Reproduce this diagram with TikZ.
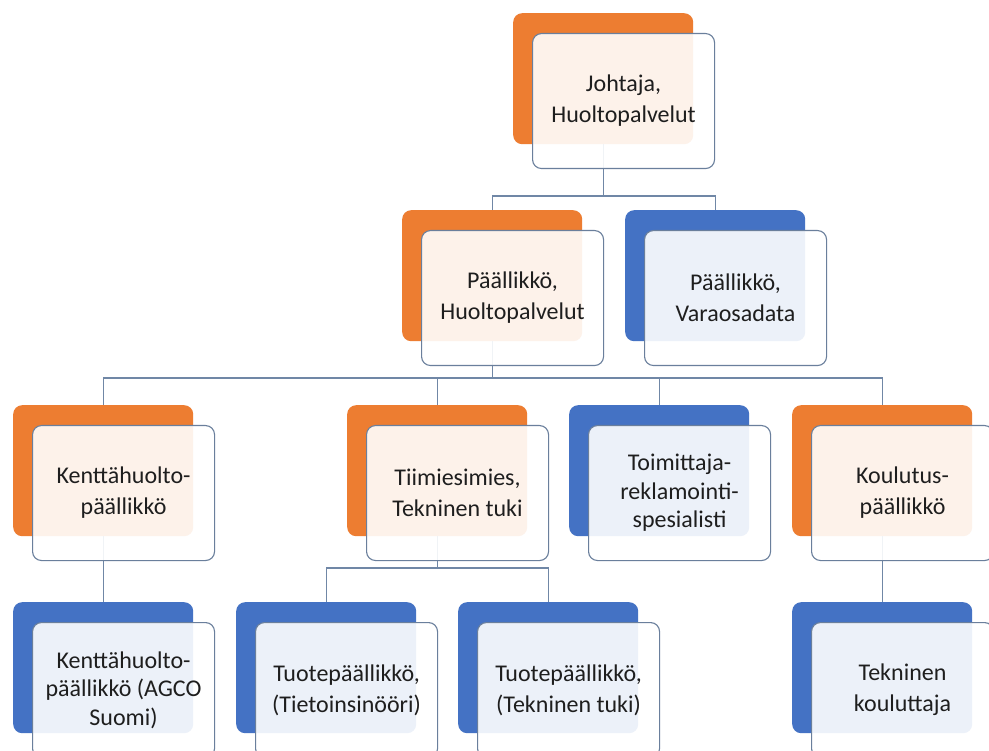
\documentclass[tikz,border=0pt]{standalone}
\usepackage{fontspec}
\setmainfont{Carlito}
\definecolor{orgorange}{HTML}{ED7D31}
\definecolor{orgblue}{HTML}{4472C4}
\definecolor{frameline}{HTML}{6A7F9C}
\definecolor{linkline}{HTML}{7087A6}
\definecolor{labeltext}{HTML}{1E1E1E}
\tikzset{
  backcard/.style={rectangle, rounded corners=9pt, minimum width=180pt,
    minimum height=131pt, anchor=north west, inner sep=0pt, draw=none},
  frontcard/.style={rectangle, rounded corners=9pt, minimum width=182pt,
    minimum height=135pt, anchor=north west, draw=frameline, line width=1.1pt,
    fill=white, fill opacity=0.9, text opacity=1, align=center,
    font=\fontsize{24}{31}\selectfont, text=labeltext, inner sep=0pt},
  threeline/.style={font=\fontsize{24}{28.5}\selectfont},
  link/.style={draw=linkline, line width=1.1pt},
}
\newcommand\frontat[1]{([xshift=19pt,yshift=-20pt]#1-b.north west)}
\begin{document}
\begin{tikzpicture}[x=1pt,y=-1pt]
\useasboundingbox[fill=white] (0,0) rectangle (989,751);

% coloured back cards
\node[backcard, fill=orgorange] (top-b) at (513,13) {};
\node[backcard, fill=orgorange] (p1-b) at (402,210) {};
\node[backcard, fill=orgblue]   (p2-b) at (625,210) {};
\node[backcard, fill=orgorange] (c1-b) at (13,405) {};
\node[backcard, fill=orgorange] (c2-b) at (347,405) {};
\node[backcard, fill=orgblue]   (c3-b) at (569,405) {};
\node[backcard, fill=orgorange] (c4-b) at (792,405) {};
\node[backcard, fill=orgblue]   (d1-b) at (13,602) {};
\node[backcard, fill=orgblue]   (d2-b) at (236,602) {};
\node[backcard, fill=orgblue]   (d3-b) at (458,602) {};
\node[backcard, fill=orgblue]   (d4-b) at (792,602) {};

% connectors
\coordinate (bus1) at (0,196);
\coordinate (bus2) at (0,378);
\coordinate (bus3) at (0,568);
\draw[link] (top-b.south) -- (top-b.south |- bus1) -| (p1-b.north);
\draw[link] (top-b.south |- bus1) -| (p2-b.north);
\draw[link] (p1-b.south) -- (p1-b.south |- bus2) -| (c1-b.north);
\draw[link] (p1-b.south |- bus2) -| (c2-b.north);
\draw[link] (p1-b.south |- bus2) -| (c3-b.north);
\draw[link] (p1-b.south |- bus2) -| (c4-b.north);
\draw[link] (c1-b.south) -- (d1-b.north);
\draw[link] (c2-b.south) -- (c2-b.south |- bus3) -| (d2-b.north);
\draw[link] (c2-b.south |- bus3) -| (d3-b.north);
\draw[link] (c4-b.south) -- (d4-b.north);

% front cards with the titles
\node[frontcard] (top) at \frontat{top} {Johtaja,\\Huoltopalvelut};
\node[frontcard] (p1) at \frontat{p1} {Päällikkö,\\Huoltopalvelut};
\node[frontcard] (p2) at \frontat{p2} {Päällikkö,\\Varaosadata};
\node[frontcard] (c1) at \frontat{c1} {Kenttähuolto-\\päällikkö};
\node[frontcard] (c2) at \frontat{c2} {Tiimiesimies,\\Tekninen tuki};
\node[frontcard, threeline] (c3) at \frontat{c3} {Toimittaja-\\reklamointi-\\spesialisti};
\node[frontcard] (c4) at \frontat{c4} {Koulutus-\\päällikkö};
\node[frontcard, threeline] (d1) at \frontat{d1} {Kenttähuolto-\\päällikkö (AGCO\\Suomi)};
\node[frontcard] (d2) at \frontat{d2} {Tuotepäällikkö,\\(Tietoinsinööri)};
\node[frontcard] (d3) at \frontat{d3} {Tuotepäällikkö,\\(Tekninen tuki)};
\node[frontcard] (d4) at \frontat{d4} {Tekninen\\kouluttaja};
\end{tikzpicture}
\end{document}
